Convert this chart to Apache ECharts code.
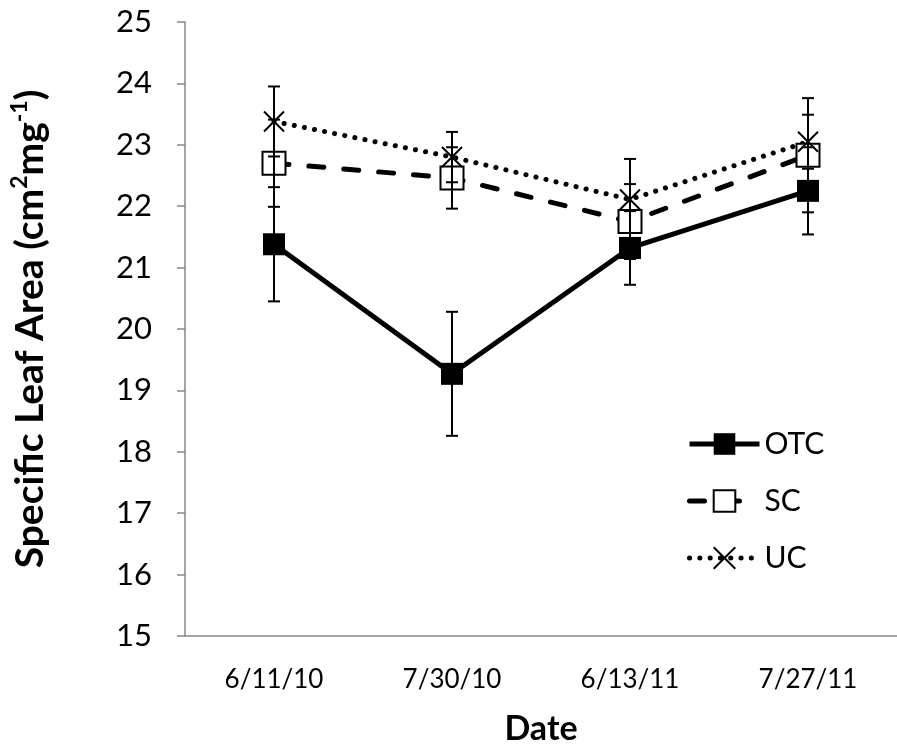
<!DOCTYPE html>
<html><head><meta charset="utf-8">
<script src="https://cdn.jsdelivr.net/npm/echarts@6/dist/echarts.min.js"></script>
<style>html,body{margin:0;padding:0;background:#fff}#c{width:897px;height:751px}</style>
</head><body><div id="c"></div>
<script>
const categories = ['6/11/10', '7/30/10', '6/13/11', '7/27/11'];
const seriesNames = ['OTC', 'SC', 'UC'];
const otcMean = [21.38, 19.27, 21.32, 22.25];
const otcErr  = [0.93, 1.01, 0.60, 0.71];
const scMean  = [22.70, 22.46, 21.75, 22.83];
const scErr   = [0.71, 0.50, 0.61, 0.93];
const ucMean  = [23.38, 22.80, 22.11, 23.05];
const ucErr   = [0.57, 0.41, 0.66, 0.44];
const yMin = 15, yMax = 25, yStep = 1;

const FONT = 'Lato';

const lineStyles = {
  OTC: { color: '#000', width: 5, type: 'solid' },
  SC:  { color: '#000', width: 5, type: [15, 20], cap: 'round' },
  UC:  { color: '#000', width: 5, type: [0.1, 10.2], cap: 'round' }
};

function errData(mean, err) {
  return mean.map((m, i) => [i, m - err[i], m + err[i]]);
}
function renderErr(params, api) {
  const x = api.value(0);
  const lo = api.coord([x, api.value(1)]);
  const hi = api.coord([x, api.value(2)]);
  const hw = 6;
  const style = { stroke: '#000', lineWidth: 2 };
  return {
    type: 'group',
    children: [
      { type: 'line', shape: { x1: lo[0], y1: lo[1], x2: hi[0], y2: hi[1] }, style },
      { type: 'line', shape: { x1: lo[0] - hw, y1: lo[1], x2: lo[0] + hw, y2: lo[1] }, style },
      { type: 'line', shape: { x1: hi[0] - hw, y1: hi[1], x2: hi[0] + hw, y2: hi[1] }, style }
    ]
  };
}
function errSeries(name, mean, err) {
  return {
    name: name + ' err', type: 'custom', renderItem: renderErr,
    data: errData(mean, err), z: 10, silent: true,
    encode: { x: 0, y: [1, 2] }
  };
}

const chart = echarts.init(document.getElementById('c'), null, { renderer: 'canvas' });
chart.setOption({
  animation: false,
  backgroundColor: '#fff',
  textStyle: { fontFamily: FONT, color: '#000' },
  grid: { left: 183, top: 22, width: 724, height: 621, containLabel: false },
  legend: {
    orient: 'vertical', left: 682, top: 424,
    itemWidth: 70, itemHeight: 27, itemGap: 27,
    data: seriesNames.map(n => ({ name: n, lineStyle: lineStyles[n] })),
    textStyle: { fontFamily: FONT, fontSize: 30, color: '#000' }
  },
  xAxis: {
    type: 'category', data: categories, boundaryGap: true,
    axisLine: { lineStyle: { color: '#888', width: 1.5 } },
    axisTick: { alignWithLabel: true, inside: true, length: 8, lineStyle: { color: '#888', width: 1.5 } },
    axisLabel: { margin: 31, fontSize: 26, color: '#000', fontFamily: FONT },
    name: 'Date', nameLocation: 'middle', nameGap: 76,
    nameTextStyle: { fontSize: 34, fontWeight: 'bold', color: '#000', fontFamily: FONT },
    splitLine: { show: false }
  },
  yAxis: {
    type: 'value', min: yMin, max: yMax, interval: yStep,
    axisLine: { show: true, lineStyle: { color: '#888', width: 1.5 } },
    axisTick: { show: true, length: 8, lineStyle: { color: '#888', width: 1.5 } },
    axisLabel: { margin: 33, fontSize: 31, color: '#000', fontFamily: FONT },
    splitLine: { show: false },
    name: 'Specific Leaf Area (cm{sup|2}mg{sup|-1})',
    nameLocation: 'middle', nameGap: 133, nameRotate: 90,
    nameTextStyle: {
      fontSize: 39, fontWeight: 'bold', color: '#000', fontFamily: FONT, lineHeight: 44,
      rich: { sup: { fontSize: 23, fontWeight: 'bold', fontFamily: FONT, color: '#000', verticalAlign: 'top', lineHeight: 25 } }
    }
  },
  series: [
    {
      name: 'OTC', type: 'line', data: otcMean, z: 3,
      symbol: 'rect', symbolSize: 22,
      itemStyle: { color: '#000', borderColor: '#000', borderWidth: 0 },
      lineStyle: lineStyles.OTC
    },
    {
      name: 'SC', type: 'line', data: scMean, z: 3,
      symbol: 'rect', symbolSize: 23,
      itemStyle: { color: '#fff', borderColor: '#000', borderWidth: 2 },
      lineStyle: lineStyles.SC
    },
    {
      name: 'UC', type: 'line', data: ucMean, z: 3,
      symbol: 'path://M0,0L10,10M10,0L0,10', symbolSize: 20, symbolKeepAspect: true,
      itemStyle: { color: 'rgba(0,0,0,0)', borderColor: '#000', borderWidth: 2 },
      lineStyle: lineStyles.UC
    },
    errSeries('OTC', otcMean, otcErr),
    errSeries('SC', scMean, scErr),
    errSeries('UC', ucMean, ucErr)
  ]
});
</script>
</body></html>
